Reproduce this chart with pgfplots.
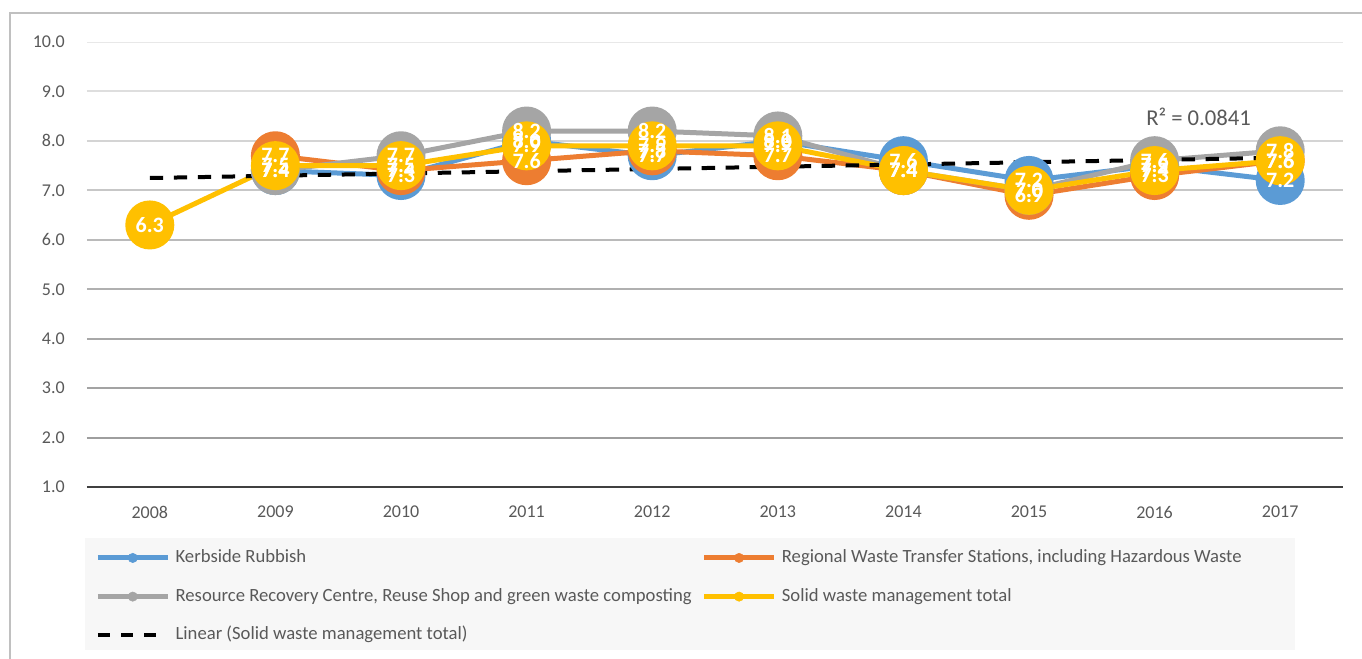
\documentclass[border=0pt]{standalone}
\usepackage{fontspec}
\setmainfont{Carlito}
\usepackage{pgfplots}
\pgfplotsset{compat=1.18}

\definecolor{kerb}{HTML}{5B9BD5}
\definecolor{regional}{HTML}{ED7D31}
\definecolor{resource}{HTML}{A5A5A5}
\definecolor{total}{HTML}{FFC000}
\definecolor{txt}{HTML}{595959}
\definecolor{framegray}{HTML}{C0C0C0}
\definecolor{legbg}{HTML}{F7F7F7}
\definecolor{baseaxis}{HTML}{404040}

\pgfplotsset{
  series/.style={line width=3.75pt, line join=round, mark=*, mark size=16.5pt, mark options={solid}, forget plot},
  lbl/.style={only marks, mark=*, mark size=0pt, mark options={draw=none, fill=none}, forget plot,
    point meta=y,
    nodes near coords={\pgfmathprintnumber[fixed,fixed zerofill,precision=1]{\pgfplotspointmeta}},
    nodes near coords style={anchor=center, text=white, inner sep=0pt, font=\bfseries\fontsize{16.5}{16.5}\selectfont}},
}

\begin{document}
\begin{tikzpicture}
% picture size in px*0.75, axis origin at (87,487) px
\path[use as bounding box] (-65.25pt,-128.25pt) rectangle (956.25pt,365.25pt);
\draw[framegray, line width=1.5pt] (-57.75pt,-135pt) -- (-57.75pt,355.5pt) -- (965pt,355.5pt);
\fill[legbg] (-1.5pt,-38.25pt) rectangle (906pt,-122.25pt);

\begin{axis}[
  at={(0pt,0pt)}, anchor=south west,
  scale only axis, width=942pt, height=333.75pt,
  xmin=-0.5, xmax=9.5, ymin=1, ymax=10,
  xtick={0,...,9},
  xticklabels={2008,2009,2010,2011,2012,2013,2014,2015,2016,2017},
  ytick={1,...,10},
  axis line style={draw=none}, major tick length=0pt,
  /pgf/number format/assume math mode=true,
  ticklabel style={font=\fontsize{13.5}{13.5}\selectfont, text=txt},
  y tick label style={/pgf/number format/fixed, /pgf/number format/fixed zerofill, /pgf/number format/precision=1,
    anchor=east, inner sep=0pt, xshift=-16.5pt},
  x tick label style={anchor=center, inner sep=0pt, yshift=-18.75pt},
  legend columns=2,
  legend cell align=left,
  legend style={at={(axis description cs:0,0)}, anchor=north west, xshift=6pt, yshift=-47pt,
    draw=none, fill=none, inner sep=0pt, row sep=17pt,
    font=\fontsize{14}{14}\selectfont, text=txt,
    nodes={inner sep=0pt, text height=9.5pt, text depth=2.5pt},
    /tikz/every odd column/.style={column sep=4pt},
    /tikz/every even column/.style={column sep=7.5pt}},
]

% gridlines, lighter towards the top
\draw[line width=1.5pt, black!38] (axis cs:-0.5,2) -- (axis cs:9.5,2);
\draw[line width=1.5pt, black!36] (axis cs:-0.5,3) -- (axis cs:9.5,3);
\draw[line width=1.5pt, black!34] (axis cs:-0.5,4) -- (axis cs:9.5,4);
\draw[line width=1.5pt, black!31] (axis cs:-0.5,5) -- (axis cs:9.5,5);
\draw[line width=1.5pt, black!27] (axis cs:-0.5,6) -- (axis cs:9.5,6);
\draw[line width=1.5pt, black!22] (axis cs:-0.5,7) -- (axis cs:9.5,7);
\draw[line width=1.5pt, black!17] (axis cs:-0.5,8) -- (axis cs:9.5,8);
\draw[line width=1.5pt, black!13] (axis cs:-0.5,9) -- (axis cs:9.5,9);
\draw[line width=1.5pt, black!9] (axis cs:-0.5,10) -- (axis cs:9.5,10);
\draw[line width=2.25pt, baseaxis] (axis cs:-0.5,1) -- (axis cs:9.5,1);

% Kerbside Rubbish
\addplot[series, color=kerb] coordinates {
  (1,7.4) (2,7.3) (3,8.0) (4,7.7) (5,8.0) (6,7.6) (7,7.2) (8,7.5) (9,7.2)};
% Regional Waste Transfer Stations
\addplot[series, color=regional] coordinates {
  (1,7.7) (2,7.4) (3,7.6) (4,7.8) (5,7.7) (6,7.4) (7,6.9) (8,7.3) (9,7.6)};
% Resource Recovery Centre
\addplot[series, color=resource] coordinates {
  (1,7.4) (2,7.7) (3,8.2) (4,8.2) (5,8.1) (6,7.4) (7,7.0) (8,7.6) (9,7.8)};
% Solid waste management total
\addplot[series, color=total] coordinates {
  (0,6.3) (1,7.5) (2,7.5) (3,7.9) (4,7.9) (5,7.9) (6,7.4) (7,7.0) (8,7.4) (9,7.6)};
% linear trend of the total
\addplot[black, line width=3pt, dash pattern=on 10pt off 8pt, forget plot] coordinates {(0,7.25) (9,7.66)};

% data labels on top
\addplot[lbl] coordinates {
  (1,7.4) (2,7.3) (3,8.0) (4,7.7) (5,8.0) (6,7.6) (7,7.2) (8,7.5) (9,7.2)};
\addplot[lbl] coordinates {
  (1,7.7) (2,7.4) (3,7.6) (4,7.8) (5,7.7) (6,7.4) (7,6.9) (8,7.3) (9,7.6)};
\addplot[lbl] coordinates {
  (1,7.4) (2,7.7) (3,8.2) (4,8.2) (5,8.1) (6,7.4) (7,7.0) (8,7.6) (9,7.8)};
\addplot[lbl] coordinates {
  (0,6.3) (1,7.5) (2,7.5) (3,7.9) (4,7.9) (5,7.9) (6,7.4) (7,7.0) (8,7.4) (9,7.6)};

\node[text=txt, font=\fontsize{17}{17}\selectfont] at (axis cs:8.35,8.48) {R² = 0.0841};

\addlegendimage{legend image code/.code={\draw[kerb, line width=3.75pt] (0pt,0pt) -- (52.5pt,0pt); \fill[kerb] (26.25pt,0pt) circle (3.5pt);}}
\addlegendentry{Kerbside Rubbish}
\addlegendimage{legend image code/.code={\draw[regional, line width=3.75pt] (0pt,0pt) -- (52.5pt,0pt); \fill[regional] (26.25pt,0pt) circle (3.5pt);}}
\addlegendentry{Regional Waste Transfer Stations, including Hazardous Waste}
\addlegendimage{legend image code/.code={\draw[resource, line width=3.75pt] (0pt,0pt) -- (52.5pt,0pt); \fill[resource] (26.25pt,0pt) circle (3.5pt);}}
\addlegendentry{Resource Recovery Centre, Reuse Shop and green waste composting}
\addlegendimage{legend image code/.code={\draw[total, line width=3.75pt] (0pt,0pt) -- (52.5pt,0pt); \fill[total] (26.25pt,0pt) circle (3.5pt);}}
\addlegendentry{Solid waste management total}
\addlegendimage{legend image code/.code={\draw[black, line width=3pt, dash pattern=on 9pt off 8.5pt] (0pt,0pt) -- (44pt,0pt);}}
\addlegendentry{Linear (Solid waste management total)}
\end{axis}
\end{tikzpicture}
\end{document}
